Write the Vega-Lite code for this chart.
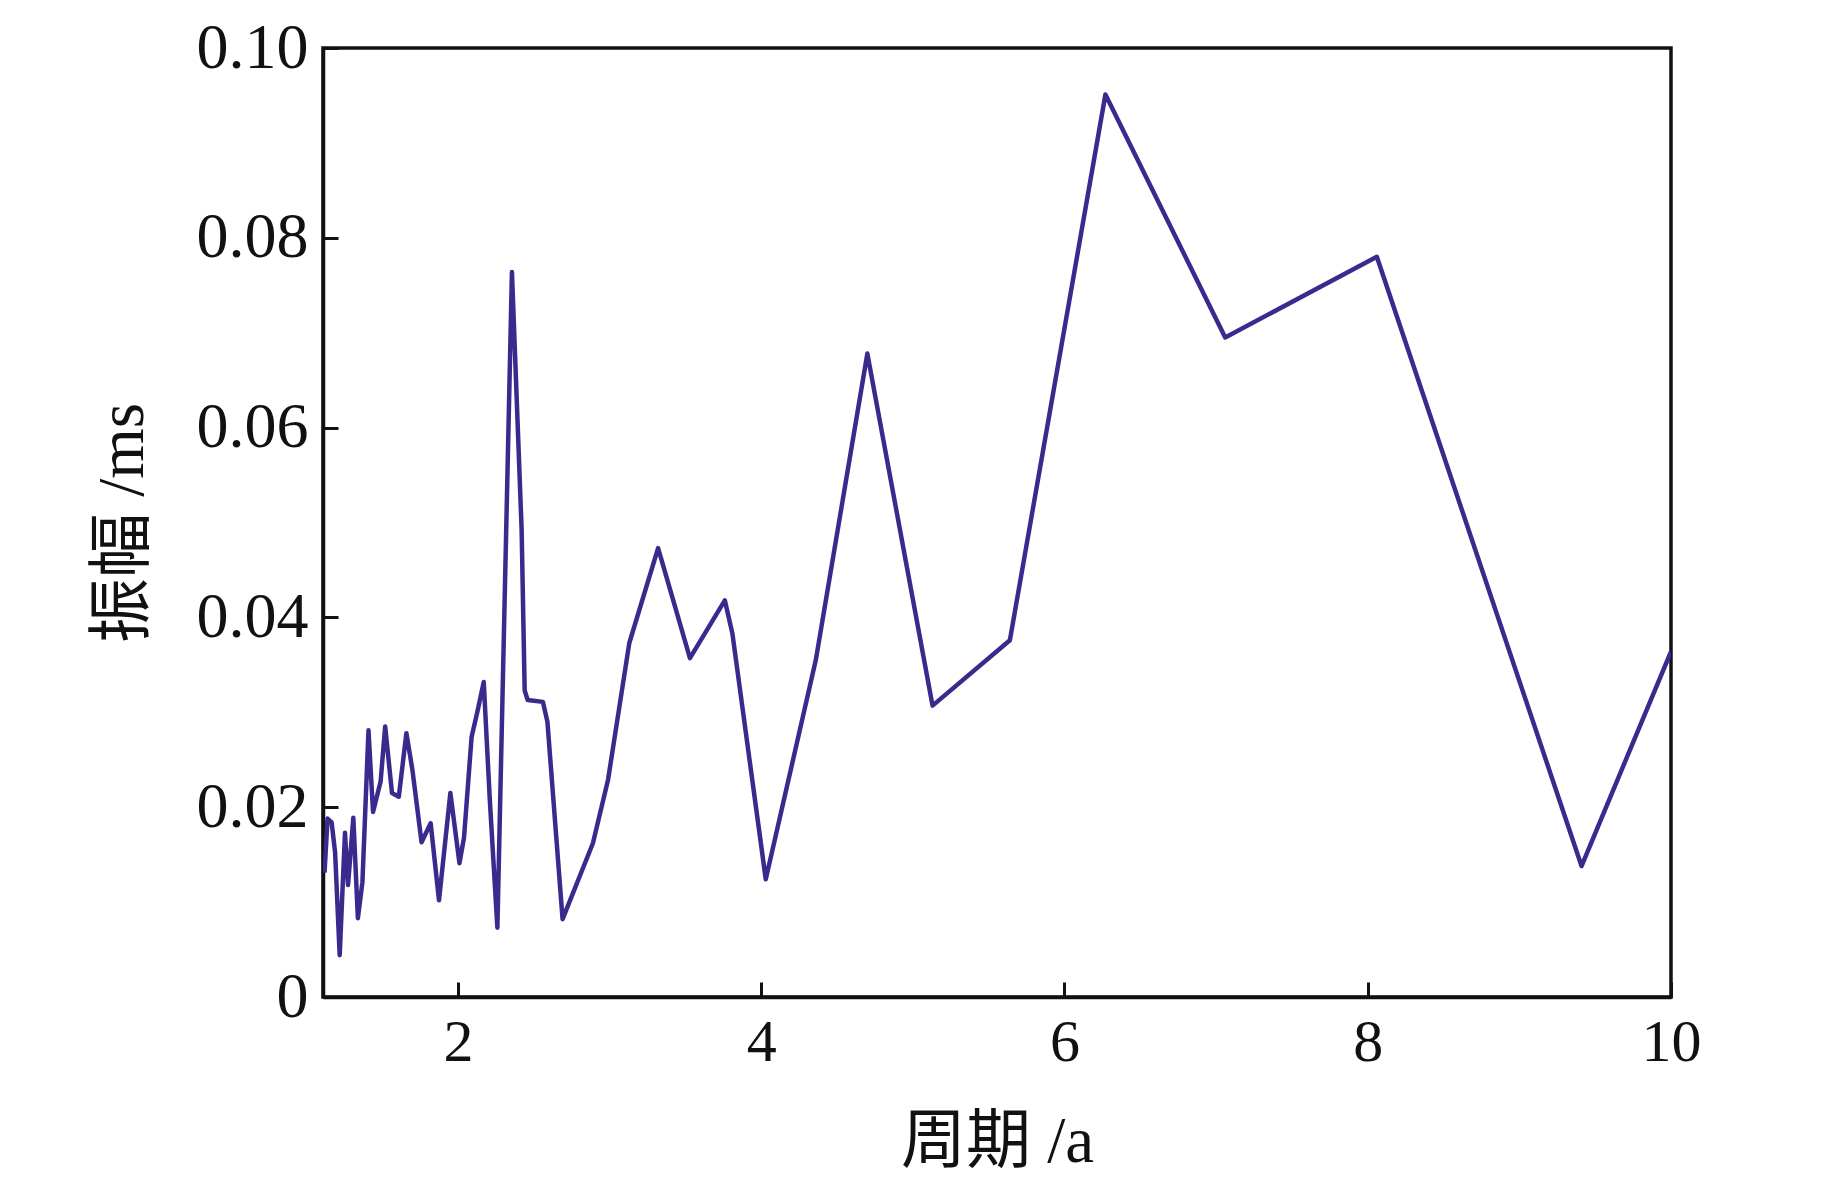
{
  "$schema": "https://vega.github.io/schema/vega-lite/v6.json",
  "autosize": {"type": "none"},
  "width": 1348,
  "height": 949,
  "padding": {"left": 323, "top": 48, "right": 172, "bottom": 184},
  "background": "white",
  "config": {
    "view": {"stroke": "#111111", "strokeWidth": 3.5},
    "axis": {"grid": false, "domainColor": "#111111", "domainWidth": 3.5, "tickColor": "#111111", "tickWidth": 3, "labelColor": "#111111", "titleColor": "#111111", "labelFont": "Liberation Serif", "titleFont": "Liberation Serif, Noto Sans CJK SC", "labelFontSize": 60, "titleFontSize": 65, "titleFontWeight": "normal", "labelFlush": false}
  },
  "data": {"values": [
    {"period": 1.12, "amp": 0.0131},
    {"period": 1.14, "amp": 0.0188},
    {"period": 1.167, "amp": 0.0184},
    {"period": 1.19, "amp": 0.0152},
    {"period": 1.22, "amp": 0.0044},
    {"period": 1.255, "amp": 0.0173},
    {"period": 1.275, "amp": 0.0118},
    {"period": 1.31, "amp": 0.0189},
    {"period": 1.34, "amp": 0.0083},
    {"period": 1.37, "amp": 0.0121},
    {"period": 1.41, "amp": 0.0281},
    {"period": 1.44, "amp": 0.0195},
    {"period": 1.49, "amp": 0.0227},
    {"period": 1.52, "amp": 0.0285},
    {"period": 1.565, "amp": 0.0215},
    {"period": 1.61, "amp": 0.0211},
    {"period": 1.66, "amp": 0.0278},
    {"period": 1.70, "amp": 0.0239},
    {"period": 1.76, "amp": 0.0163},
    {"period": 1.82, "amp": 0.0183},
    {"period": 1.875, "amp": 0.0102},
    {"period": 1.95, "amp": 0.0215},
    {"period": 2.01, "amp": 0.0141},
    {"period": 2.04, "amp": 0.0168},
    {"period": 2.09, "amp": 0.0274},
    {"period": 2.13, "amp": 0.0302},
    {"period": 2.17, "amp": 0.0332},
    {"period": 2.21, "amp": 0.0208},
    {"period": 2.26, "amp": 0.0073},
    {"period": 2.356, "amp": 0.0764},
    {"period": 2.42, "amp": 0.0492},
    {"period": 2.44, "amp": 0.0323},
    {"period": 2.46, "amp": 0.0313},
    {"period": 2.56, "amp": 0.0311},
    {"period": 2.59, "amp": 0.029},
    {"period": 2.69, "amp": 0.0082},
    {"period": 2.89, "amp": 0.0162},
    {"period": 2.99, "amp": 0.0229},
    {"period": 3.13, "amp": 0.0373},
    {"period": 3.32, "amp": 0.0473},
    {"period": 3.53, "amp": 0.0357},
    {"period": 3.76, "amp": 0.0418},
    {"period": 3.81, "amp": 0.0383},
    {"period": 4.03, "amp": 0.0124},
    {"period": 4.36, "amp": 0.0355},
    {"period": 4.70, "amp": 0.0678},
    {"period": 5.13, "amp": 0.0307},
    {"period": 5.64, "amp": 0.0376},
    {"period": 6.27, "amp": 0.0951},
    {"period": 7.06, "amp": 0.0695},
    {"period": 8.06, "amp": 0.0780},
    {"period": 9.41, "amp": 0.0138},
    {"period": 10.0, "amp": 0.0364}
  ]},
  "mark": {"type": "line", "color": "#3b2a8e", "strokeWidth": 4.5, "clip": true, "strokeJoin": "round"},
  "encoding": {
    "x": {"field": "period", "type": "quantitative", "sort": null,
      "scale": {"domain": [1.11, 10], "nice": false, "zero": false},
      "axis": {"title": "周期 /a", "values": [2, 4, 6, 8, 10], "tickSize": -15, "labelPadding": 31, "titlePadding": 38, "format": "d"}},
    "y": {"field": "amp", "type": "quantitative",
      "scale": {"domain": [0, 0.1], "nice": false},
      "axis": {"title": "振幅 /ms", "values": [0, 0.02, 0.04, 0.06, 0.08, 0.1], "tickSize": -15, "labelPadding": 30, "titlePadding": 40, "labelFontSize": 64,
        "labelExpr": "datum.value == 0 ? '0' : format(datum.value, '.2f')"}}
  }
}
